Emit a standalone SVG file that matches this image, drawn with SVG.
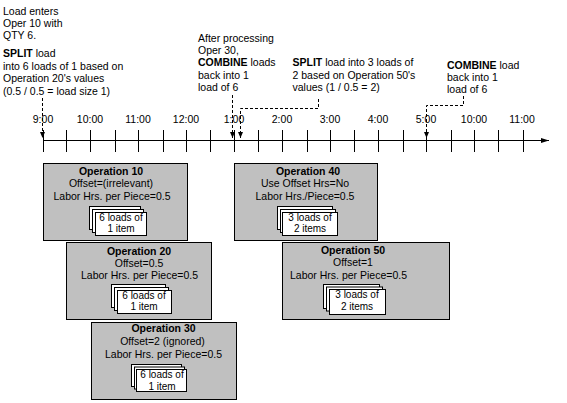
<svg xmlns="http://www.w3.org/2000/svg" width="567" height="403" viewBox="0 0 567 403">
<style>
text{font-family:"Liberation Sans",Arial,sans-serif;font-size:10.5px;fill:#000}
.b{font-weight:bold}
.c{text-anchor:middle}
.s{font-size:10px}
.box{fill:#c0c0c0;stroke:#000;stroke-width:1}
.card{fill:#fff;stroke:#000;stroke-width:1}
.ax{stroke:#000;stroke-width:1;fill:none}
.dash{stroke:#000;stroke-width:1;fill:none;stroke-dasharray:3,2}
</style>
<defs>
<marker id="ah" markerUnits="userSpaceOnUse" markerWidth="6" markerHeight="6" viewBox="0 0 6 6" refX="6" refY="3" orient="auto">
<path d="M0,0.5 L6,3 L0,5.5 z" fill="#000"/>
</marker>
<marker id="axh" markerUnits="userSpaceOnUse" markerWidth="8" markerHeight="6" viewBox="0 0 8 6" refX="8" refY="3" orient="auto">
<path d="M0,0.5 L8,3 L0,5.5 z" fill="#000"/>
</marker>
</defs>

<g id="timeline">
<line class="ax" x1="43" y1="140.5" x2="549" y2="140.5" marker-end="url(#axh)"/>
<path class="ax" d="M43.5,130V152 M66.5,130V152 M90.5,130V152 M115.5,130V152 M138.5,130V152 M163.5,130V152 M186.5,130V152 M210.5,130V152 M234.5,130V152 M258.5,130V152 M282.5,130V152 M307.5,130V152 M330.5,130V152 M354.5,130V152 M378.5,130V152 M403.5,130V152 M426.5,130V152 M451.5,130V152 M474.5,130V152 M498.5,130V152 M523.5,130V152"/>
<text class="c" x="43" y="123">9:00</text>
<text class="c" x="90" y="123">10:00</text>
<text class="c" x="138" y="123">11:00</text>
<text class="c" x="186" y="123">12:00</text>
<text class="c" x="234" y="123">1:00</text>
<text class="c" x="282" y="123">2:00</text>
<text class="c" x="330" y="123">3:00</text>
<text class="c" x="378" y="123">4:00</text>
<text class="c" x="426" y="123">5:00</text>
<text class="c" x="474" y="123">10:00</text>
<text class="c" x="522" y="123">11:00</text>
</g>

<g id="note1">
<text x="3" y="15">Load enters</text>
<text x="3" y="27">Oper 10 with</text>
<text x="3" y="39">QTY 6.</text>
<text x="3" y="57"><tspan class="b">SPLIT</tspan> load</text>
<text x="3" y="69.5">into 6 loads of 1 based on</text>
<text x="3" y="82">Operation 20's values</text>
<text x="3" y="94.5">(0.5 / 0.5 = load size 1)</text>
</g>

<g id="note2">
<text x="198" y="42">After processing</text>
<text x="198" y="54.2">Oper 30,</text>
<text x="198" y="66.4"><tspan class="b">COMBINE</tspan> loads</text>
<text x="198" y="78.6">back into 1</text>
<text x="198" y="90.8">load of 6</text>
</g>

<g id="note3">
<text x="292.5" y="66.4"><tspan class="b">SPLIT</tspan> load into 3 loads of</text>
<text x="292.5" y="78.6">2 based on Operation 50's</text>
<text x="292.5" y="90.8">values (1 / 0.5 = 2)</text>
</g>

<g id="note4">
<text x="447" y="69"><tspan class="b">COMBINE</tspan> load</text>
<text x="447" y="81.2">back into 1</text>
<text x="447" y="93.4">load of 6</text>
</g>

<g id="connectors">
<path class="dash" d="M42.5,98V138" marker-end="url(#ah)"/>
<path class="dash" d="M232.5,95V138" marker-end="url(#ah)"/>
<path class="dash" d="M318.5,99V108.5H240.5V138" marker-end="url(#ah)"/>
<path class="dash" d="M463.5,96V105.5H426.5V138" marker-end="url(#ah)"/>
</g>

<g id="op10">
<rect class="box" x="43.5" y="163.5" width="144" height="77"/>
<text class="c b" x="111" y="174.5">Operation 10</text>
<text class="c" x="111" y="187">Offset=(irrelevant)</text>
<text class="c" x="112" y="199.5">Labor Hrs. per Piece=0.5</text>
<rect class="card" x="89.5" y="206.5" width="51" height="23"/>
<rect class="card" x="92.5" y="209.5" width="51" height="23"/>
<rect class="card" x="95.5" y="212.5" width="51" height="23"/>
<text class="c s" x="121" y="221">6 loads of</text>
<text class="c s" x="121" y="232">1 item</text>
</g>

<g id="op20">
<rect class="box" x="66.5" y="242.5" width="145" height="77"/>
<text class="c b" x="139" y="255">Operation 20</text>
<text class="c" x="139" y="266.5">Offset=0.5</text>
<text class="c" x="139.5" y="279">Labor Hrs. per Piece=0.5</text>
<rect class="card" x="111.5" y="284.5" width="54" height="23"/>
<rect class="card" x="114.5" y="287.5" width="54" height="23"/>
<rect class="card" x="117.5" y="290.5" width="54" height="23"/>
<text class="c s" x="144" y="298.5">6 loads of</text>
<text class="c s" x="144" y="310">1 item</text>
</g>

<g id="op30">
<rect class="box" x="91.5" y="322.5" width="145" height="77"/>
<text class="c b" x="163.5" y="332">Operation 30</text>
<text class="c" x="162.5" y="344.5">Offset=2 (ignored)</text>
<text class="c" x="163.5" y="357.5">Labor Hrs. per Piece=0.5</text>
<rect class="card" x="131.5" y="364.5" width="50" height="22"/>
<rect class="card" x="134.5" y="367" width="50" height="22"/>
<rect class="card" x="136.5" y="369.5" width="50" height="22"/>
<text class="c s" x="162" y="378">6 loads of</text>
<text class="c s" x="162" y="389.5">1 item</text>
</g>

<g id="op40">
<rect class="box" x="234.5" y="163.5" width="143" height="77"/>
<text class="c b" x="308" y="174.5">Operation 40</text>
<text class="c" x="305" y="187">Use Offset Hrs=No</text>
<text class="c" x="305" y="199.5">Labor Hrs./Piece=0.5</text>
<rect class="card" x="277.5" y="206.5" width="55" height="23"/>
<rect class="card" x="280.5" y="209.5" width="55" height="23"/>
<rect class="card" x="282.5" y="212.5" width="55" height="23"/>
<text class="c s" x="310" y="220.5">3 loads of</text>
<text class="c s" x="310" y="232">2 items</text>
</g>

<g id="op50">
<rect class="box" x="282.5" y="242.5" width="167" height="77"/>
<text class="c b" x="353" y="253.5">Operation 50</text>
<text class="c" x="353" y="265.5">Offset=1</text>
<text class="c" x="348.5" y="278.5">Labor Hrs. per Piece=0.5</text>
<rect class="card" x="323.5" y="284.5" width="56" height="24"/>
<rect class="card" x="326.5" y="287" width="56" height="24"/>
<rect class="card" x="329.5" y="289.5" width="56" height="25"/>
<text class="c s" x="357" y="298">3 loads of</text>
<text class="c s" x="357" y="310">2 items</text>
</g>
</svg>
